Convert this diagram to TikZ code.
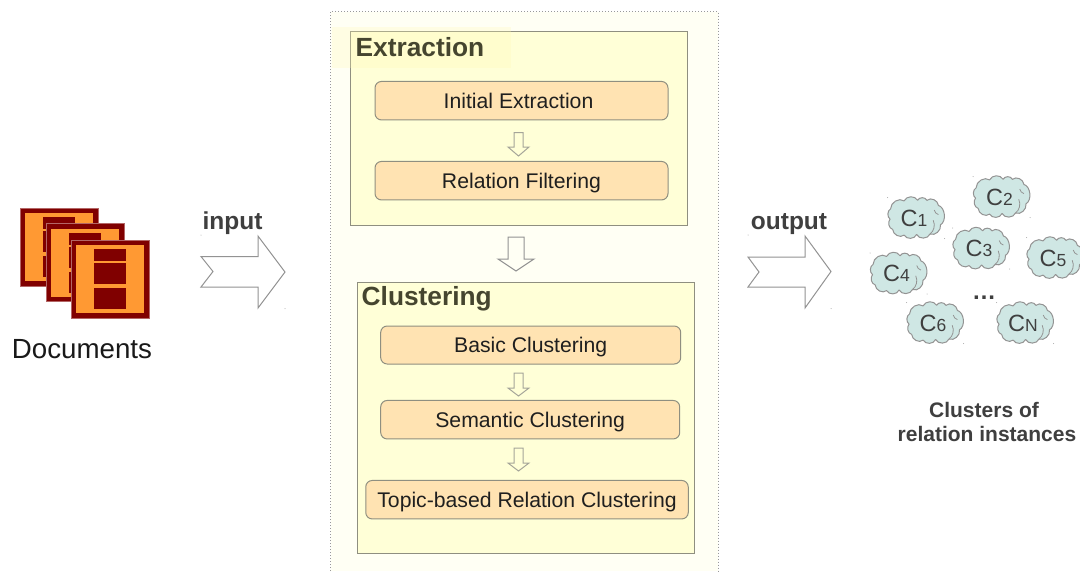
\documentclass[tikz,border=0pt]{standalone}
\usepackage{fontspec}
\setmainfont{Liberation Sans}
\definecolor{outerfill}{HTML}{FFFFF4}
\definecolor{panelfill}{HTML}{FFFFD7}
\definecolor{stepfill}{HTML}{FFE3B2}
\definecolor{cloudfill}{HTML}{CFE7E4}
\definecolor{docdark}{HTML}{800000}
\definecolor{docorange}{HTML}{FF9933}
\definecolor{labelgray}{HTML}{3F3F3F}
\definecolor{titlegray}{HTML}{45452F}
\definecolor{linegray}{HTML}{8F8F80}
\tikzset{
  panel/.style={draw=linegray,fill=panelfill,line width=1pt,inner sep=0pt},
  stepbox/.style={draw=linegray,fill=stepfill,line width=1pt,rounded corners=6.5pt,inner sep=0pt,
    font=\fontsize{21.2}{24}\selectfont,text=black!88,text height=15.2pt,text depth=0pt},
  blockarrow/.style={draw=gray!85,fill=outerfill,line width=1pt,line join=miter},
  smallarrow/.style={draw=linegray!80,fill=panelfill,line width=1pt},
  panetitle/.style={anchor=base west,inner sep=0pt,font=\fontsize{26.3}{28}\selectfont\bfseries,text=titlegray},
  flowlabel/.style={anchor=base,inner sep=0pt,font=\fontsize{24.5}{26}\selectfont\bfseries,text=labelgray},
  cloudline/.style={draw=gray!85,fill=cloudfill,line width=1pt,line join=round},
  cloudlabel/.style={inner sep=0pt,text=labelgray,anchor=base},
  speck/.style={fill=gray!70,draw=none},
}
\newcommand{\docicon}[2]{%
  \fill[docdark,draw=docdark!60!white,line width=.2pt] (#1,#2) rectangle ++(78,78);
  \fill[docorange] (#1+5,#2+5) rectangle ++(68,68);
  \fill[docdark] (#1+22.5,#2+9) rectangle ++(32.5,12);
  \fill[docdark] (#1+22.5,#2+23) rectangle ++(32.5,21);
  \fill[docdark] (#1+22.5,#2+48) rectangle ++(32.5,21);
}
\newcommand{\cloudicon}[5]{%
  \begin{scope}[shift={(#1,#2)}]
    \begin{scope}[shift={(-1.5,0)},xscale=1.04,yscale=1.14]
    \path[cloudline] (-23,-8) to[bend left=62] (-10,-15) to[bend left=62] (3,-15.5)
      to[bend left=62] (12,-15.5) to[bend left=62] (23,-11) to[bend left=70] (25,6)
      to[bend left=62] (15,14) to[bend left=62] (2,14.5) to[bend left=62] (-10,15)
      to[bend left=62] (-21,10) to[bend left=62] (-23.5,1) to[bend left=62] cycle;
    \draw[gray!85,line width=.8pt] (18,2) to[bend left=40] (15,14);
    \draw[gray!85,line width=.8pt] (19,-7) to[bend right=30] (23,-3);
    \end{scope}
    \fill[speck] (-28.5,-20.5) circle (.5);
    \fill[speck] (28.5,20.5) circle (.5);
    \node[cloudlabel] (#3) at (-2,8) {\fontsize{23.5}{26}\selectfont C\fontsize{17.5}{20}\selectfont #4};
  \end{scope}
}
\begin{document}
\begin{tikzpicture}[x=1pt,y=-1pt]
\useasboundingbox (0,0) rectangle (1080,571);
\fill[white] (0,0) rectangle (1080,571);

% documents
\docicon{20}{208}
\docicon{46}{223.5}
\docicon{71}{240}
\node[anchor=base,inner sep=0pt,font=\fontsize{27.7}{30}\selectfont,text=black!90] (documents) at (82,358) {Documents};

% outer frame
\fill[outerfill] (330.5,11.5) rectangle (718,571);
\draw[gray!80,dotted,line width=1pt] (330.5,571) -- (330.5,11.5) -- (718,11.5) -- (718,571);

% extraction panel
\node[panel,minimum width=337.5pt,minimum height=194pt] (extraction) at (518.75,128) {};
\fill[yellow!30,opacity=.25] (332,27) rectangle (510.5,67.5);
\node[panetitle] (extractiontitle) at (355.5,56) {Extraction};
\node[stepbox,minimum width=293pt,minimum height=38.5pt] (initial) at (521.5,100.7) {Initial Extraction\hspace*{6pt}};
\node[stepbox,minimum width=293pt,minimum height=38.5pt] (filtering) at (521.5,180.7) {Relation Filtering};
\path[smallarrow] (514,132.5) -- (523,132.5) -- (523,147) -- (529,147) -- (518.5,156) -- (508,147) -- (514,147) -- cycle;

% big arrow between panels
\path[blockarrow,fill=outerfill] (508,237) -- (524,237) -- (524,259) -- (534,259) -- (516,271) -- (498,259) -- (508,259) -- cycle;

% clustering panel
\node[panel,minimum width=337pt,minimum height=271pt] (clustering) at (525.5,417.5) {};
\node[panetitle] (clusteringtitle) at (361.5,305) {Clustering};
\node[stepbox,minimum width=300pt,minimum height=38pt] (basic) at (530.7,345) {Basic Clustering};
\node[stepbox,minimum width=299pt,minimum height=38.5pt] (semantic) at (530.2,419.7) {Semantic Clustering};
\node[stepbox,minimum width=322.5pt,minimum height=38.5pt] (topic) at (527,499.7) {Topic-based Relation Clustering};
\path[smallarrow] (514,373) -- (523,373) -- (523,388) -- (529,388) -- (518.5,396) -- (508,388) -- (514,388) -- cycle;
\path[smallarrow] (514,448) -- (523,448) -- (523,463) -- (529,463) -- (518.5,471) -- (508,463) -- (514,463) -- cycle;

% input and output arrows
\path[blockarrow,fill=white] (201,256.5) -- (258,256.5) -- (258,236) -- (285,272) -- (258,308) -- (258,287) -- (201,287) -- (213,271.5) -- cycle;
\node[flowlabel] (input) at (232.5,229) {input};
\path[blockarrow,fill=white] (748,257) -- (805,257) -- (805,236) -- (831,271.5) -- (805,308) -- (805,287) -- (748,287) -- (759,272) -- cycle;
\node[flowlabel] (output) at (789,229) {output};
\fill[speck] (201,235) circle (.5);
\fill[speck] (285,308.5) circle (.5);
\fill[speck] (748,235) circle (.5);
\fill[speck] (831,308.5) circle (.5);

% clusters
\cloudicon{916}{218}{c1}{1}{}
\cloudicon{1001.5}{197}{c2}{2}{}
\cloudicon{981}{248.5}{c3}{3}{}
\cloudicon{1055}{258}{c5}{5}{}
\cloudicon{898.5}{273.5}{c4}{4}{}
\cloudicon{935}{323}{c6}{6}{}
\cloudicon{1025}{323}{cn}{N}{}
\node[anchor=base,inner sep=0pt,font=\fontsize{24}{26}\selectfont\bfseries,text=labelgray] (dots) at (984,299) {…};
\node[anchor=base,inner sep=0pt,font=\fontsize{21}{23}\selectfont\bfseries,text=labelgray] (clusters1) at (984,417) {Clusters of};
\node[anchor=base,inner sep=0pt,font=\fontsize{21}{23}\selectfont\bfseries,text=labelgray] (clusters2) at (987,441) {relation instances};
\end{tikzpicture}
\end{document}
